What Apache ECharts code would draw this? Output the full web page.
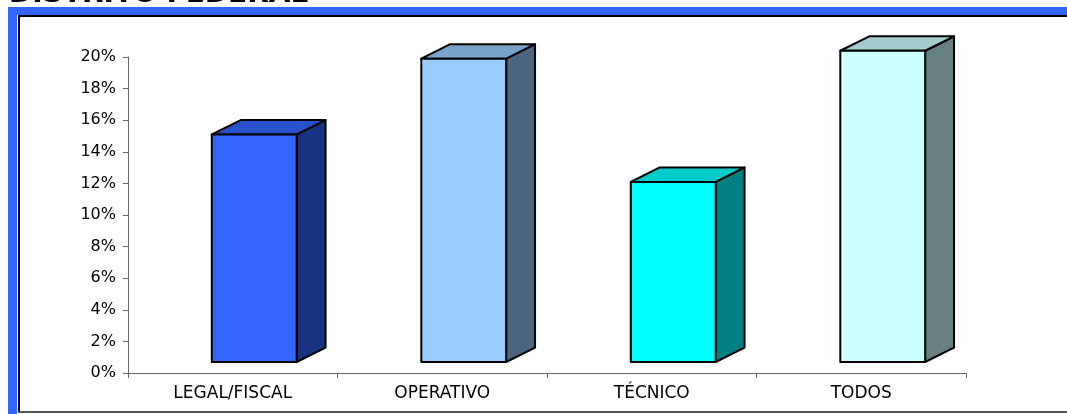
<!DOCTYPE html>
<html>
<head>
<meta charset="utf-8">
<script src="https://cdn.jsdelivr.net/npm/echarts@6/dist/echarts.min.js"></script>
<style>
  html, body { margin: 0; padding: 0; background: #fff; }
  #chart { width: 1067px; height: 414px; }
</style>
</head>
<body>
<div id="chart"></div>
<script>
// datos
var categories = ["LEGAL/FISCAL", "OPERATIVO", "TÉCNICO", "TODOS"];
var values = [14.4, 19.2, 11.4, 19.7];
var yTicks = { min: 0, max: 20, step: 2 };

// colores de cada barra: frente, tapa, lado
var palette = [
  { front: "#3366FF", top: "#2952CC", side: "#1A3380" },
  { front: "#99CCFF", top: "#7AA3CC", side: "#4C6680" },
  { front: "#00FFFF", top: "#00CCCC", side: "#008080" },
  { front: "#CCFFFF", top: "#A3CCCC", side: "#668080" }
];

var chart = echarts.init(document.getElementById("chart"));

function renderBar(params, api) {
  var idx = api.value(0);
  var top = api.coord([idx, api.value(1)]);
  var base = api.coord([idx, 0]);
  var bw = api.size([1, 0])[0];
  var w = bw * 0.405;      // ancho del frente
  var dx = bw * 0.138;     // profundidad
  var dy = dx * 0.5;
  var lift = 11;           // el piso 3D queda sobre el eje
  var x0 = top[0] - bw * 0.1;
  var yTop = top[1] - lift;
  var yBot = base[1] - lift;
  var c = palette[idx];
  var stroke = { stroke: "#000", lineWidth: 2, lineJoin: "round" };
  return {
    type: "group",
    children: [
      {
        type: "polygon",
        shape: { points: [[x0 + w, yTop], [x0 + w + dx, yTop - dy], [x0 + w + dx, yBot - dy], [x0 + w, yBot]] },
        style: Object.assign({ fill: c.side }, stroke)
      },
      {
        type: "polygon",
        shape: { points: [[x0, yTop], [x0 + dx, yTop - dy], [x0 + w + dx, yTop - dy], [x0 + w, yTop]] },
        style: Object.assign({ fill: c.top }, stroke)
      },
      {
        type: "rect",
        shape: { x: x0, y: yTop, width: w, height: yBot - yTop },
        style: Object.assign({ fill: c.front }, stroke)
      }
    ]
  };
}

var option = {
  backgroundColor: "#fff",
  animation: false,
  grid: { left: 128, right: 101, top: 57, bottom: 41 },
  graphic: [
    // titulo cortado arriba
    {
      type: "text", x: 9, y: 9, z: 1,
      style: { text: "DISTRITO FEDERAL", fill: "#000", font: "bold 28px 'DejaVu Sans'", verticalAlign: "bottom" }
    },
    // marco azul
    { type: "rect", z: 2, shape: { x: 8, y: 7, width: 1059, height: 8 }, style: { fill: "#3366FF" } },
    { type: "rect", z: 2, shape: { x: 8, y: 7, width: 9, height: 407 }, style: { fill: "#3366FF" } },
    { type: "line", z: 2, shape: { x1: 18, y1: 16, x2: 1067, y2: 16 }, style: { stroke: "#000", lineWidth: 2 } },
    { type: "line", z: 2, shape: { x1: 19, y1: 16, x2: 19, y2: 412 }, style: { stroke: "#000", lineWidth: 2 } },
    { type: "line", z: 2, shape: { x1: 18, y1: 412, x2: 1067, y2: 412 }, style: { stroke: "#555", lineWidth: 2 } }
  ],
  xAxis: {
    type: "category",
    data: categories,
    axisLine: { lineStyle: { color: "#666", width: 1 } },
    axisTick: { show: true, length: 5, lineStyle: { color: "#666" } },
    axisLabel: { color: "#000", fontSize: 17, fontFamily: "DejaVu Sans", margin: 12 }
  },
  yAxis: {
    type: "value",
    min: yTicks.min,
    max: yTicks.max,
    interval: yTicks.step,
    axisLine: { show: true, lineStyle: { color: "#666", width: 1 } },
    axisTick: { show: true, length: 5, lineStyle: { color: "#666" } },
    splitLine: { show: false },
    axisLabel: { color: "#000", fontSize: 16, fontFamily: "DejaVu Sans", margin: 12, formatter: "{value}%" }
  },
  series: [
    {
      type: "custom",
      renderItem: renderBar,
      data: values.map(function (v, i) { return [i, v]; })
    }
  ]
};

chart.setOption(option);
</script>
</body>
</html>
